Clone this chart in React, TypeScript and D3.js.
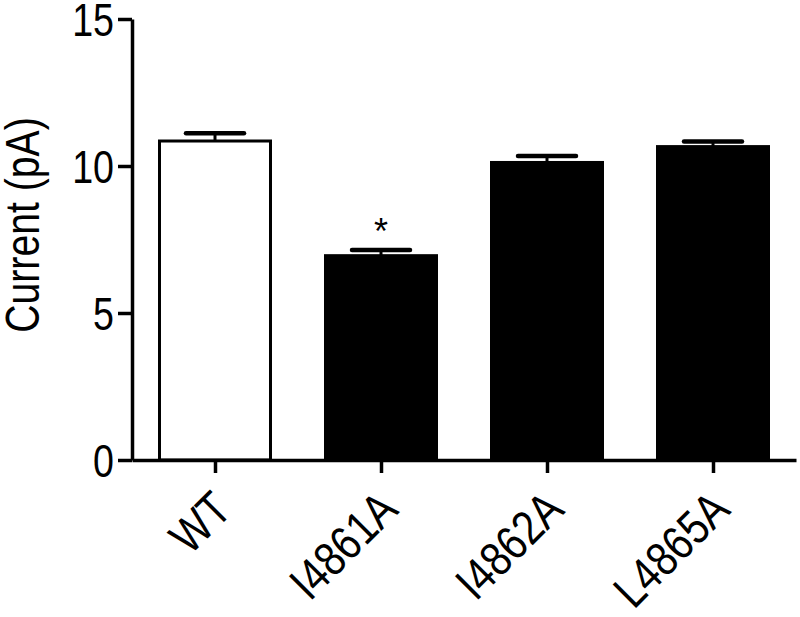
import React, { useEffect, useRef } from 'react';
import * as d3 from 'd3';

const categories = ['WT', 'I4861A', 'I4862A', 'L4865A'];
const means = [10.85, 6.95, 10.12, 10.66];
const sems = [0.26, 0.19, 0.22, 0.17];
const fills = ['#ffffff', '#000000', '#000000', '#000000'];
const significant = [false, true, false, false];
const yTicks = [0, 5, 10, 15];

const W = 800;
const H = 617;
const FONT = '"Liberation Sans", Arial, Helvetica, sans-serif';

const App = () => {
    const svgRef = useRef<SVGSVGElement>(null);

    useEffect(() => {
        const svg = d3.select(svgRef.current);
        svg.selectAll('*').remove();

        const y = d3.scaleLinear().domain([0, 15]).range([460, 19]);
        const x = d3.scalePoint<string>().domain(categories).range([132, 796]).padding(0.5);
        const barW = 111;
        const capW = 58;

        // bars
        svg.append('g')
            .selectAll('rect')
            .data(categories)
            .join('rect')
            .attr('x', d => x(d)! - barW / 2)
            .attr('y', (d, i) => y(means[i]))
            .attr('width', barW)
            .attr('height', (d, i) => y(0) - y(means[i]))
            .attr('fill', (d, i) => fills[i])
            .attr('stroke', '#000')
            .attr('stroke-width', 3);

        // error bars (upper only)
        const err = svg.append('g').attr('stroke', '#000');
        categories.forEach((c, i) => {
            const cx = x(c)!;
            const top = y(means[i] + sems[i]);
            err.append('line')
                .attr('x1', cx).attr('x2', cx)
                .attr('y1', y(means[i])).attr('y2', top)
                .attr('stroke-width', 3);
            err.append('line')
                .attr('x1', cx - capW / 2).attr('x2', cx + capW / 2)
                .attr('y1', top).attr('y2', top)
                .attr('stroke-width', 4.5)
                .attr('stroke-linecap', 'round');
            if (significant[i]) {
                svg.append('text')
                    .attr('x', cx).attr('y', top - 6)
                    .attr('text-anchor', 'middle')
                    .attr('font-family', FONT)
                    .attr('font-size', 36)
                    .attr('fill', '#000')
                    .text('*');
            }
        });

        // y axis
        const yAxis = svg.append('g')
            .attr('transform', 'translate(132,0)')
            .call(d3.axisLeft(y).tickValues(yTicks).tickSize(14).tickSizeOuter(0).tickFormat(() => ''));
        yAxis.select('.domain').attr('stroke', '#000').attr('stroke-width', 3.5);
        yAxis.selectAll('.tick line').attr('stroke', '#000').attr('stroke-width', 3.5);

        svg.append('g')
            .selectAll('text')
            .data(yTicks)
            .join('text')
            .attr('transform', d => `translate(114,${y(d) + 17}) scale(0.8,1)`)
            .attr('text-anchor', 'end')
            .attr('font-family', FONT)
            .attr('font-size', 47)
            .attr('fill', '#000')
            .text(d => d);

        // x axis
        const xAxis = svg.append('g')
            .attr('transform', 'translate(0,460)')
            .call(d3.axisBottom(x).tickSize(13).tickSizeOuter(0).tickFormat(() => ''));
        xAxis.select('.domain').attr('stroke', '#000').attr('stroke-width', 3.5);
        xAxis.selectAll('.tick line').attr('stroke', '#000').attr('stroke-width', 3.5);

        svg.append('g')
            .selectAll('text')
            .data(categories)
            .join('text')
            .attr('transform', d => `translate(${x(d)! + 19},512) rotate(-45) scale(0.84,1)`)
            .attr('text-anchor', 'end')
            .attr('font-family', FONT)
            .attr('font-size', 48)
            .attr('fill', '#000')
            .text(d => d);

        // y title
        svg.append('text')
            .attr('transform', 'translate(39,225) rotate(-90) scale(0.8,1)')
            .attr('text-anchor', 'middle')
            .attr('font-family', FONT)
            .attr('font-size', 49)
            .attr('fill', '#000')
            .text('Current (pA)');
    }, []);

    return (
        <svg ref={svgRef} width={W} height={H}
            style={{ position: 'absolute', left: 0, top: 0, background: '#fff' }} />
    );
};

export default App;
